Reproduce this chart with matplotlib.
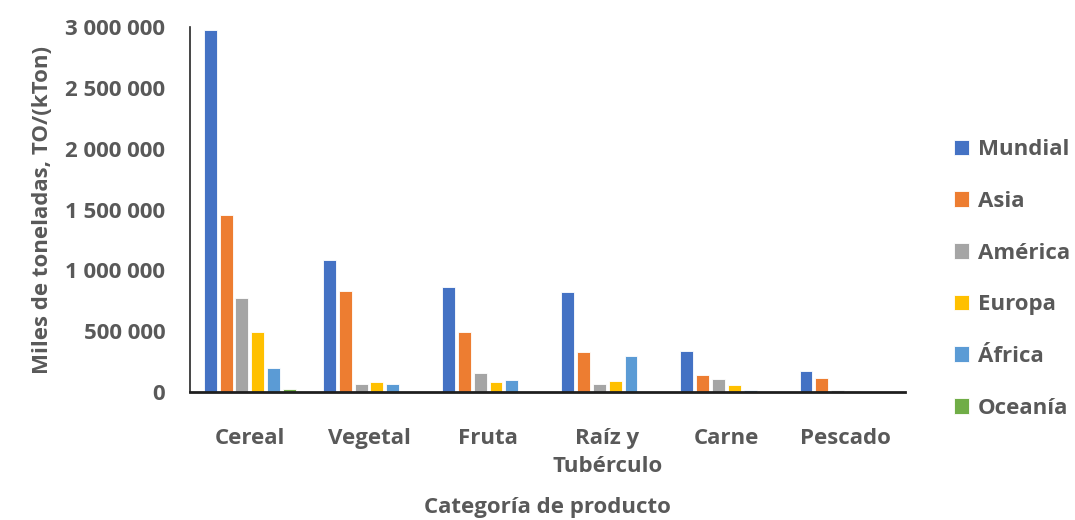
import numpy as np
from matplotlib import pyplot as plt
from matplotlib.ticker import FuncFormatter

categories = ["Cereal", "Vegetal", "Fruta", "Raíz y\nTubérculo", "Carne", "Pescado"]
regions = ["Mundial", "Asia", "América", "Europa", "África", "Oceanía"]

# Miles de toneladas per region, in category order
mundial = [2975000, 1085000, 866000, 822000, 340000, 173000]
asia = [1455000, 833000, 496000, 329000, 137000, 115000]
america = [770000, 66000, 159000, 68000, 104000, 14000]
europa = [496000, 80000, 80000, 93000, 58000, 12000]
africa = [195000, 66000, 101000, 296000, 14000, 0]
oceania = [25000, 0, 0, 0, 0, 0]

colors = ["#4472C4", "#ED7D31", "#A5A5A5", "#FFC000", "#5B9BD5", "#70AD47"]
text_color = "#595959"
plt.rcParams['font.family'] = ['Open Sans', 'DejaVu Sans']
fs = 16

fig = plt.figure(figsize=(10.75, 5.2), dpi=100)
ax = fig.add_axes([0.177, 0.246, 0.665, 0.702])

series = [mundial, asia, america, europa, africa, oceania]
x = np.arange(len(categories))
slot = 0.133
width = 0.108
for i, (name, vals, c) in enumerate(zip(regions, series, colors)):
    offset = (i - 2.5) * slot
    ax.bar(x + offset, vals, width=width, color=c, label=name,
           edgecolor="white", linewidth=0.6)

ax.set_xlim(-0.5, len(categories) - 0.5)
ax.set_ylim(0, 3000000)
ax.set_yticks(np.arange(0, 3000001, 500000))
ax.yaxis.set_major_formatter(FuncFormatter(lambda v, p: f"{int(v):,}".replace(",", " ")))
ax.set_xticks(x)
ax.set_xticklabels(categories, linespacing=1.4)

ax.tick_params(axis="both", length=0, labelsize=fs, labelcolor=text_color)
ax.tick_params(axis="x", pad=26)
ax.tick_params(axis="y", pad=18)
for lbl in ax.get_xticklabels() + ax.get_yticklabels():
    lbl.set_fontweight("bold")

for side in ["top", "right"]:
    ax.spines[side].set_visible(False)
ax.spines["left"].set_color("#262626")
ax.spines["left"].set_linewidth(1.2)
ax.spines["bottom"].set_color("#1F1F1F")
ax.spines["bottom"].set_linewidth(2)

ax.set_ylabel("Miles de toneladas, TO/(kTon)", fontsize=fs, fontweight="bold",
              color=text_color, labelpad=9)
ax.set_xlabel("Categoría de producto", fontsize=fs, fontweight="bold",
              color=text_color, labelpad=15)

leg = ax.legend(loc="center left", bbox_to_anchor=(1.04, 0.31), frameon=False,
                fontsize=fs, handlelength=0.7, handleheight=0.7, handletextpad=0.4,
                labelspacing=1.38)
for t in leg.get_texts():
    t.set_color(text_color)
    t.set_fontweight("bold")

fig.savefig("out.png", dpi=100)
